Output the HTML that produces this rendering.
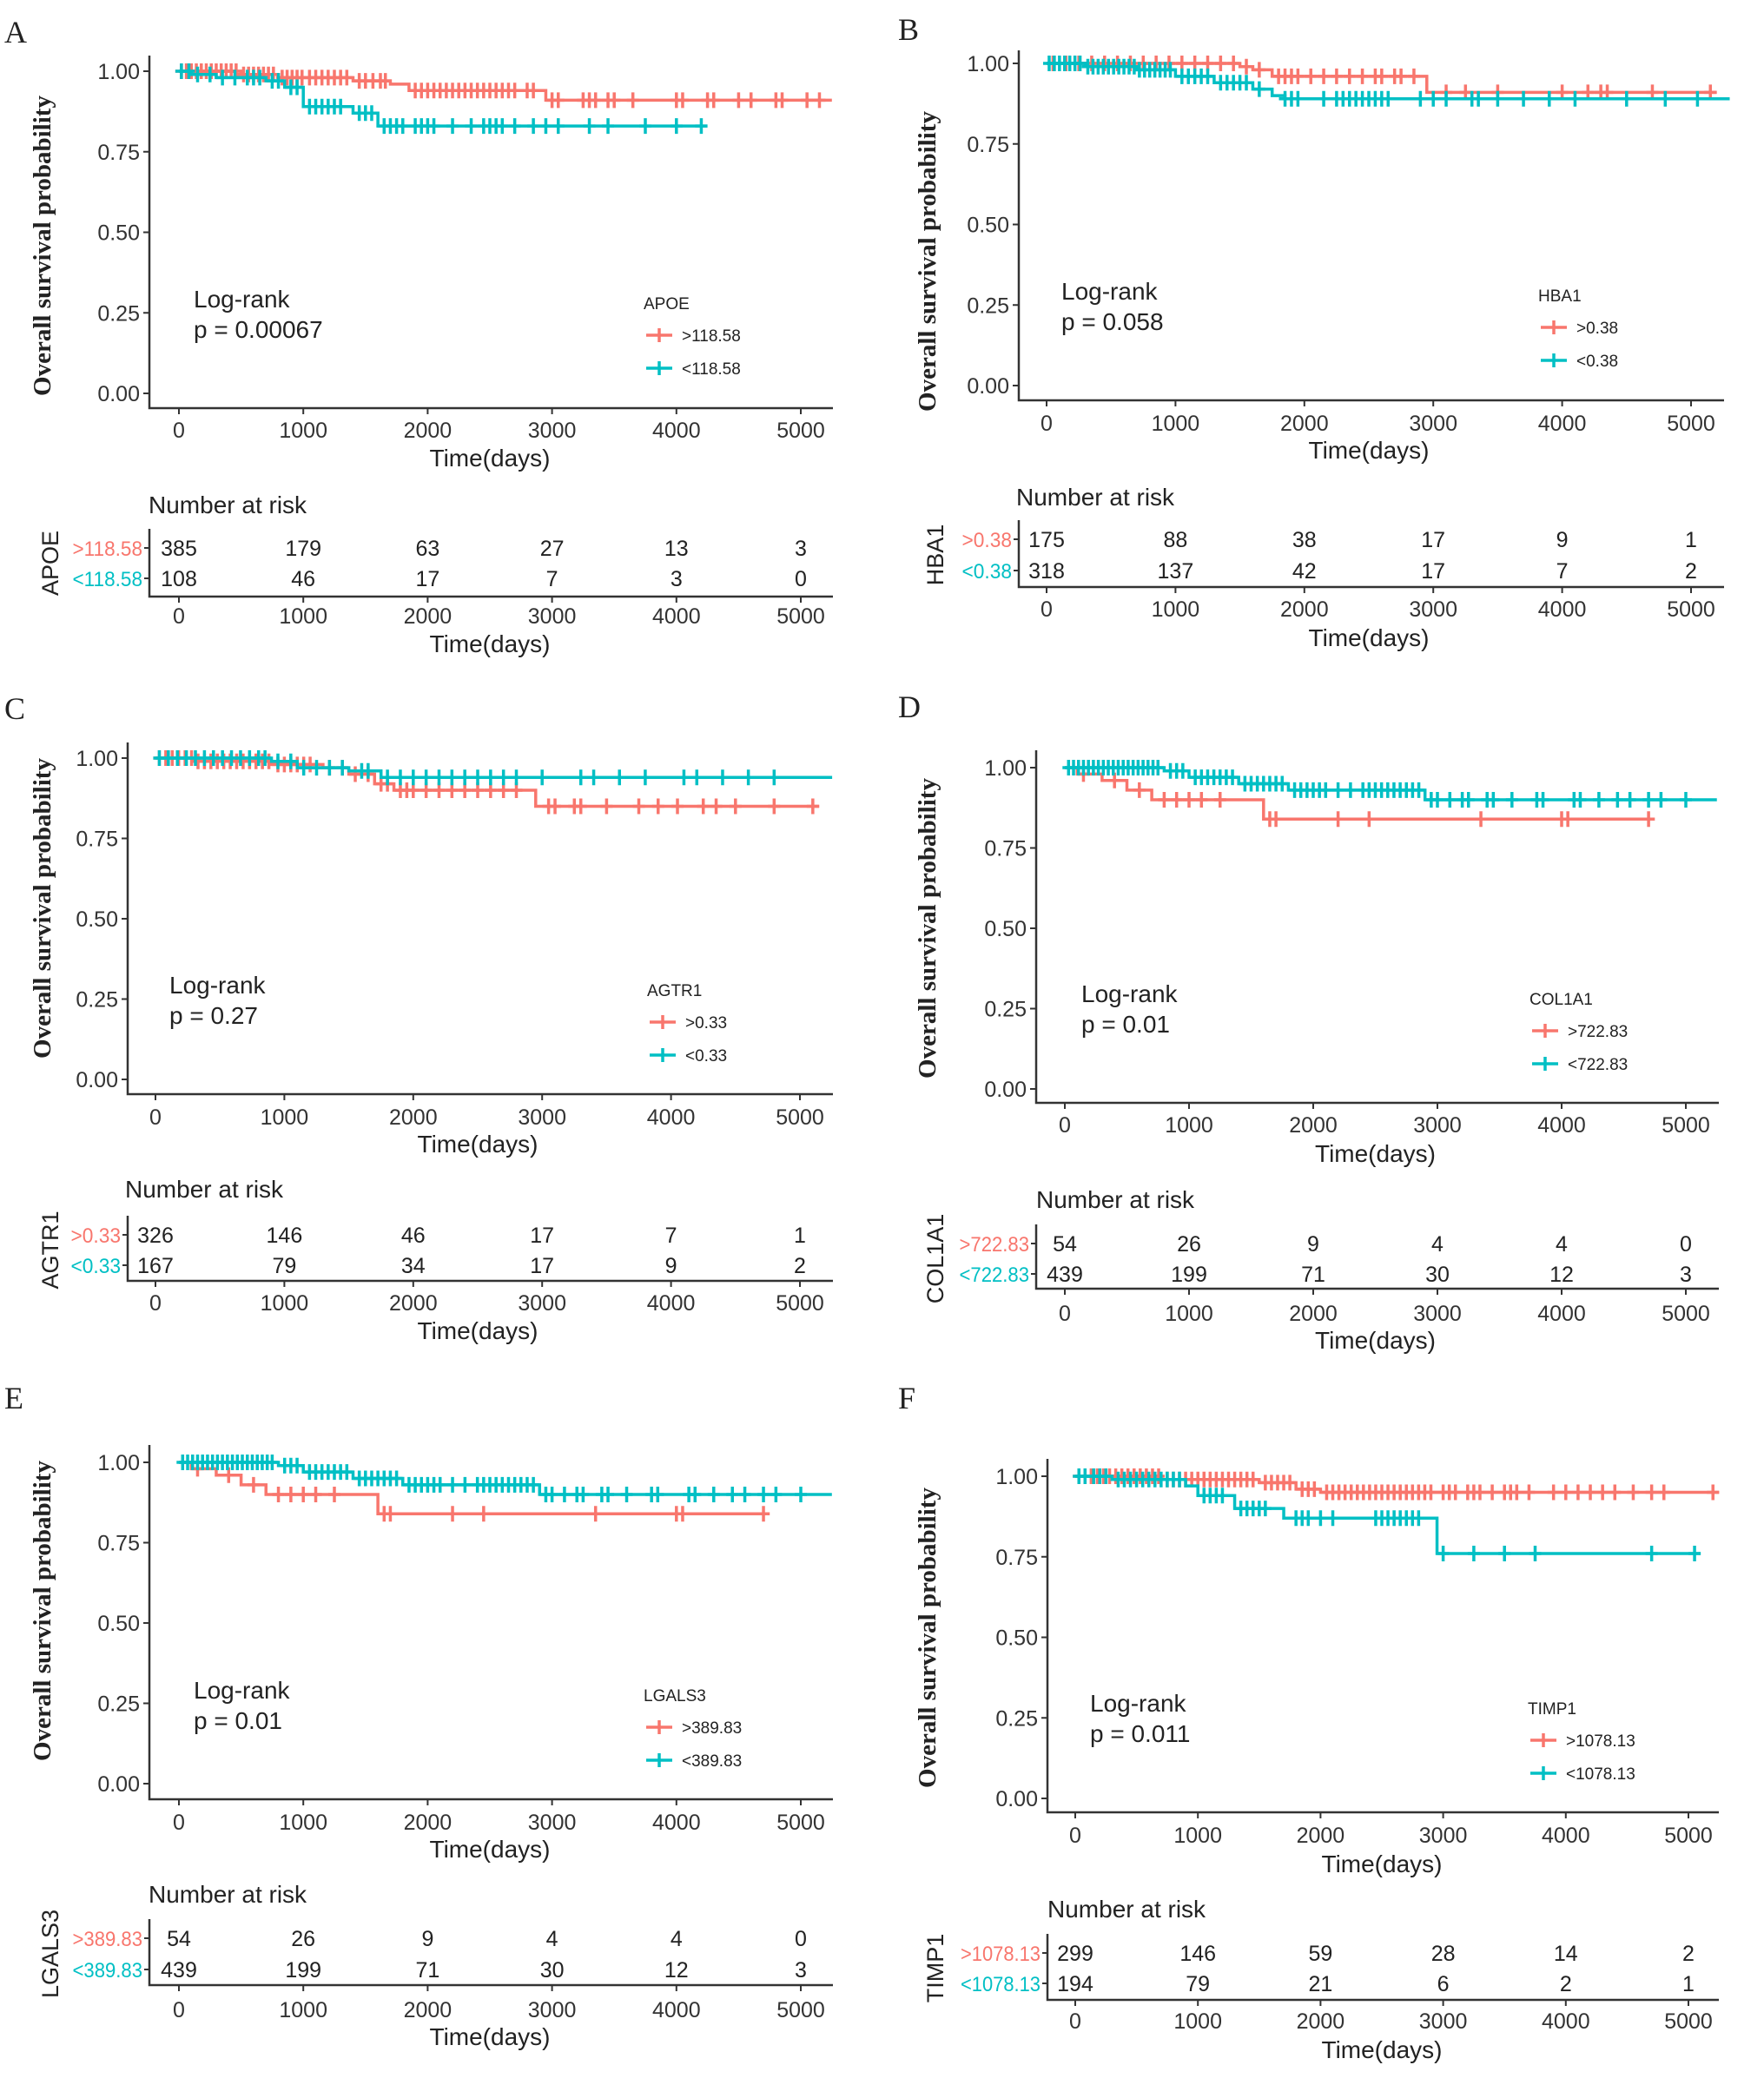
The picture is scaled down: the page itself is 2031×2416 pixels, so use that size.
<!DOCTYPE html>
<html><head><meta charset="utf-8">
<style>
html,body{margin:0;padding:0;background:#fff;}
svg{display:block;}
text{font-family:"Liberation Sans",sans-serif;}
.serif{font-family:"Liberation Serif",serif;}
</style></head>
<body>
<svg id="fig" width="2031" height="2416" viewBox="0 0 2031 2416" xmlns="http://www.w3.org/2000/svg"></svg>
<script>
// ---- data (days, survival) ----
const xTicks=[0,1000,2000,3000,4000,5000];
const yTicks=[0,0.25,0.5,0.75,1];
const yTickLabels=["0.00","0.25","0.50","0.75","1.00"];

const aHiT=[500,800,1400,1700,1850,2950];
const aHiS=[0.99,0.98,0.97,0.96,0.94,0.91];
const aHiC=[20,60,100,140,180,220,260,300,340,380,420,460,520,560,600,640,680,720,760,830,870,910,950,990,1050,1100,1150,1200,1250,1300,1350,1450,1500,1560,1620,1660,1900,1950,2000,2050,2100,2150,2200,2250,2300,2350,2400,2450,2500,2550,2600,2650,2700,2800,2850,3000,3050,3250,3300,3350,3450,3500,3650,4000,4050,4250,4300,4500,4600,4800,4850,5050,5150];
const aHiEnd=5250;
const aLoT=[100,300,700,850,1000,1400,1600];
const aLoS=[0.99,0.98,0.97,0.95,0.89,0.87,0.83];
const aLoC=[20,80,150,250,350,450,550,600,650,750,800,900,950,1050,1100,1150,1200,1250,1300,1450,1500,1550,1650,1700,1750,1800,1900,1950,2000,2050,2200,2350,2450,2500,2550,2600,2700,2850,2950,3050,3300,3450,3750,4000,4200];
const aLoEnd=4250;
const aRiskHi=[385,179,63,27,13,3];
const aRiskLo=[108,46,17,7,3,0];

const bHiT=[1500,1600,1750,2950];
const bHiS=[0.99,0.98,0.96,0.91];
const bHiC=[50,150,250,350,450,550,650,750,850,950,1050,1150,1250,1350,1450,1550,1650,1800,1850,1900,1950,2050,2150,2250,2350,2450,2550,2600,2700,2750,2850,3100,3250,3500,4000,4200,4300,4350,4700,5150];
const bHiEnd=5200;
const bLoT=[300,700,1000,1300,1600,1750,1850];
const bLoS=[0.99,0.98,0.96,0.94,0.92,0.90,0.89];
const bLoC=[20,60,100,140,180,220,260,320,360,400,440,480,520,560,600,640,680,720,760,800,840,880,920,960,1050,1100,1150,1200,1250,1350,1400,1450,1500,1550,1650,1850,1900,1950,2150,2250,2300,2350,2400,2450,2500,2550,2600,2650,2900,3000,3100,3300,3350,3500,3700,3900,4100,4500,4800,5050];
const bLoEnd=5300;
const bRiskHi=[175,88,38,17,9,1];
const bRiskLo=[318,137,42,17,7,2];

const cHiT=[300,900,1300,1500,1700,1850,2950];
const cHiS=[0.99,0.98,0.97,0.95,0.92,0.90,0.85];
const cHiC=[30,80,130,180,230,280,330,380,430,480,530,580,630,680,730,780,830,880,950,1000,1050,1100,1150,1200,1350,1450,1550,1650,1750,1800,1900,1950,2000,2100,2200,2300,2400,2500,2600,2700,2800,3050,3100,3250,3300,3500,3750,3900,4050,4250,4350,4500,4800,5100];
const cHiEnd=5150;
const cLoT=[900,1100,1500,1750];
const cLoS=[0.99,0.97,0.96,0.94];
const cLoC=[30,100,170,240,310,380,450,520,590,660,730,800,850,950,1050,1150,1250,1350,1450,1600,1650,1800,1900,2000,2100,2200,2300,2400,2500,2600,2700,2800,3000,3300,3400,3600,3800,4100,4200,4400,4600,4800];
const cLoEnd=5250;
const cRiskHi=[326,146,46,17,7,1];
const cRiskLo=[167,79,34,17,9,2];

const dHiT=[100,300,500,700,1600];
const dHiS=[0.98,0.96,0.93,0.90,0.84];
const dHiC=[150,400,600,800,900,1000,1100,1250,1650,1700,2200,2450,3350,4000,4050,4700];
const dHiEnd=4750;
const dLoT=[800,1000,1400,1800,2900];
const dLoS=[0.99,0.97,0.95,0.93,0.90];
const dLoC=[30,70,110,150,190,230,270,310,350,390,430,470,510,550,590,630,670,710,750,850,900,950,1050,1100,1150,1200,1250,1300,1350,1450,1500,1550,1600,1650,1700,1750,1850,1900,1950,2000,2050,2100,2200,2300,2400,2450,2500,2550,2600,2650,2700,2750,2800,2850,2950,3000,3100,3200,3250,3400,3450,3600,3800,3850,4100,4150,4300,4450,4550,4700,4800,5000];
const dLoEnd=5250;
const dRiskHi=[54,26,9,4,4,0];
const dRiskLo=[439,199,71,30,12,3];

const fHiT=[700,1500,1800,2000];
const fHiS=[0.99,0.98,0.96,0.95];
const fHiC=[30,80,130,180,230,280,330,380,430,480,530,580,630,680,750,800,850,900,950,1000,1050,1100,1150,1200,1250,1300,1350,1400,1450,1550,1600,1650,1700,1750,1850,1900,1950,2050,2100,2150,2200,2250,2300,2350,2400,2450,2500,2550,2600,2650,2700,2750,2800,2850,2900,3000,3050,3100,3200,3250,3300,3400,3500,3550,3600,3700,3900,4000,4100,4200,4300,4400,4550,4700,4800,5200];
const fHiEnd=5250;
const fLoT=[300,900,1000,1300,1700,2950];
const fLoS=[0.99,0.97,0.94,0.90,0.87,0.76];
const fLoC=[30,80,150,200,250,350,400,450,500,550,600,650,700,750,800,850,1050,1100,1150,1200,1350,1400,1450,1500,1550,1800,1850,1900,2000,2100,2450,2500,2550,2600,2650,2700,2750,2800,3000,3250,3500,3750,4700,5050];
const fLoEnd=5100;
const fRiskHi=[299,146,59,28,14,2];
const fRiskLo=[194,79,21,6,2,1];

const RED="#F8766D", TEAL="#00BFC4";
const svg=document.getElementById('fig');
const NS="http://www.w3.org/2000/svg";
function el(tag,attrs,parent){const e=document.createElementNS(NS,tag);for(const k in attrs)e.setAttribute(k,attrs[k]);(parent||svg).appendChild(e);return e;}
function txt(s,attrs,parent){const e=el('text',attrs,parent);e.textContent=s;if(!attrs.style)e.setAttribute('style','fill:'+(attrs.fill||'#222'));return e;}
function survAt(T,S,t){let s=1;for(let i=0;i<T.length;i++){if(T[i]<=t)s=S[i];}return s;}

function panel(L,D){
  const g=el('g',{});
  
  
  const X=t=>L.x0+(L.x5-L.x0)*t/5000;
  const Y=s=>L.y0+(L.y1-L.y0)*s;
  const lt=txt(L.id,{x:L.lx,y:L.ly,'font-size':36,class:'serif'},g);
  
  const ax=el('path',{d:`M${L.ax},${L.top}V${L.xa}H${L.right}`,stroke:'#333','stroke-width':2.5,fill:'none'},g);
  
  yTicks.forEach((v,i)=>{
    el('line',{x1:L.ax-7,x2:L.ax,y1:Y(v),y2:Y(v),stroke:'#333','stroke-width':2},g);
    const t=txt(yTickLabels[i],{x:L.ax-11,y:Y(v)+9,'font-size':25,'text-anchor':'end',fill:'#333'},g);
    
  });
  xTicks.forEach(v=>{
    el('line',{x1:X(v),x2:X(v),y1:L.xa,y2:L.xa+7,stroke:'#333','stroke-width':2},g);
    const t=txt(String(v),{x:X(v),y:L.tb,'font-size':25,'text-anchor':'middle',fill:'#333'},g);
    
  });
  const xt=txt('Time(days)',{x:(L.x0+L.x5)/2,y:L.tt,'font-size':28,'text-anchor':'middle'},g);
  
  const yt=txt('Overall  survival probability',{x:0,y:0,'font-size':29,'font-weight':'bold',class:'serif','text-anchor':'middle',transform:`translate(${L.yx},${L.yc}) rotate(-90)`},g);
  
  [[D.hiT,D.hiS,D.hiC,D.hiEnd,RED,'high'],[D.loT,D.loS,D.loC,D.loEnd,TEAL,'low']].forEach(([T,S,C,E,col,nm])=>{
    let d=`M${X(0)},${Y(1)}`;
    for(let i=0;i<T.length;i++){d+=`H${X(T[i])}V${Y(S[i])}`;}
    d+=`H${X(E)}`;
    const p=el('path',{d:d,stroke:col,'stroke-width':3.5,fill:'none'},g);
    
    C.forEach(t=>{
      const cx=X(t),cy=Y(survAt(T,S,t));
      const m=el('path',{d:`M${cx-7},${cy}H${cx+7}M${cx},${cy-9}V${cy+9}`,stroke:col,'stroke-width':3.5},g);
      
    });
  });
  const lr=txt('Log-rank',{x:L.lrx,y:L.lry,'font-size':28},g);
  
  const pv=txt('p = '+L.p,{x:L.lrx,y:L.lry+35,'font-size':28},g);
  
  const lg=el('g',{},g);
  
  txt(L.gene,{x:L.lgx,y:L.lgy,'font-size':19},lg);
  [[RED,'>'+L.cut,L.lgy+30],[TEAL,'<'+L.cut,L.lgy+68]].forEach(([c,s,yy])=>{
    el('path',{d:`M${L.lgx+3},${yy}H${L.lgx+33}M${L.lgx+18},${yy-8}V${yy+8}`,stroke:c,'stroke-width':3.5},lg);
    const e=txt(s,{x:L.lgx+44,y:yy+7,'font-size':19},lg);
    
  });
  const nr=txt('Number at risk',{x:L.nrx,y:L.nry,'font-size':28},g);
  
  const rx=L.ax, rTop=L.r1-22, rB=L.rax;
  el('path',{d:`M${rx},${rTop}V${rB}H${L.right}`,stroke:'#333','stroke-width':2.5,fill:'none'},g);
  [[D.rHi,L.r1,RED,'>'+L.cut],[D.rLo,L.r2,TEAL,'<'+L.cut]].forEach(([arr,yy,c,lab])=>{
    el('line',{x1:rx-6,x2:rx,y1:yy,y2:yy,stroke:'#333','stroke-width':2},g);
    const rl=txt(lab,{x:rx-8,y:yy+9,'font-size':24,'text-anchor':'end',style:'fill:'+c,textLength:lab.length*11.5,lengthAdjust:'spacingAndGlyphs'},g);
    
    arr.forEach((n,i)=>{
      const t=txt(String(n),{x:X(xTicks[i]),y:yy+9,'font-size':25,'text-anchor':'middle'},g);
      
    });
  });
  xTicks.forEach(v=>{
    el('line',{x1:X(v),x2:X(v),y1:rB,y2:rB+7,stroke:'#333','stroke-width':2},g);
    txt(String(v),{x:X(v),y:L.rtb,'font-size':25,'text-anchor':'middle',fill:'#333'},g);
  });
  txt('Time(days)',{x:(L.x0+L.x5)/2,y:L.rtt,'font-size':28,'text-anchor':'middle'},g);
  const gn=txt(L.gene,{x:0,y:0,'font-size':27,'text-anchor':'middle',transform:`translate(${L.yx+9},${(L.r1+L.r2)/2}) rotate(-90)`},g);
  
}

panel({id:'A',lx:5,ly:49,ax:172,top:64,xa:470,right:959,x0:206,x5:922,y1:82,y0:453,tb:504,tt:537,yx:58,yc:283,lrx:223,lry:354,p:'0.00067',gene:'APOE',cut:'118.58',lgx:741,lgy:356,nrx:171,nry:591,r1:631,r2:666,rax:687,rtb:718,rtt:751},
 {hiT:aHiT,hiS:aHiS,hiC:aHiC,hiEnd:aHiEnd,loT:aLoT,loS:aLoS,loC:aLoC,loEnd:aLoEnd,rHi:aRiskHi,rLo:aRiskLo});
panel({id:'B',lx:1034,ly:46,ax:1173,top:58,xa:461,right:1985,x0:1205,x5:1947,y1:73,y0:444,tb:496,tt:528,yx:1077,yc:301,lrx:1222,lry:345,p:'0.058',gene:'HBA1',cut:'0.38',lgx:1771,lgy:347,nrx:1170,nry:582,r1:621,r2:657,rax:676,rtb:710,rtt:744},
 {hiT:bHiT,hiS:bHiS,hiC:bHiC,hiEnd:bHiEnd,loT:bLoT,loS:bLoS,loC:bLoC,loEnd:bLoEnd,rHi:bRiskHi,rLo:bRiskLo});
panel({id:'C',lx:5,ly:828,ax:147,top:855,xa:1260,right:959,x0:179,x5:921,y1:873,y0:1243,tb:1295,tt:1327,yx:58,yc:1046,lrx:195,lry:1144,p:'0.27',gene:'AGTR1',cut:'0.33',lgx:745,lgy:1147,nrx:144,nry:1379,r1:1422,r2:1457,rax:1475,rtb:1509,rtt:1542},
 {hiT:cHiT,hiS:cHiS,hiC:cHiC,hiEnd:cHiEnd,loT:cLoT,loS:cLoS,loC:cLoC,loEnd:cLoEnd,rHi:cRiskHi,rLo:cRiskLo});
panel({id:'D',lx:1034,ly:826,ax:1193,top:864,xa:1270,right:1979,x0:1226,x5:1941,y1:884,y0:1254,tb:1304,tt:1338,yx:1077,yc:1069,lrx:1245,lry:1154,p:'0.01',gene:'COL1A1',cut:'722.83',lgx:1761,lgy:1157,nrx:1193,nry:1391,r1:1432,r2:1467,rax:1484,rtb:1521,rtt:1553},
 {hiT:dHiT,hiS:dHiS,hiC:dHiC,hiEnd:dHiEnd,loT:dLoT,loS:dLoS,loC:dLoC,loEnd:dLoEnd,rHi:dRiskHi,rLo:dRiskLo});
panel({id:'E',lx:5,ly:1622,ax:172,top:1664,xa:2072,right:959,x0:206,x5:922,y1:1684,y0:2054,tb:2107,tt:2139,yx:58,yc:1855,lrx:223,lry:1956,p:'0.01',gene:'LGALS3',cut:'389.83',lgx:741,lgy:1959,nrx:171,nry:2191,r1:2232,r2:2268,rax:2286,rtb:2323,rtt:2355},
 {hiT:dHiT,hiS:dHiS,hiC:dHiC,hiEnd:dHiEnd,loT:dLoT,loS:dLoS,loC:dLoC,loEnd:dLoEnd,rHi:dRiskHi,rLo:dRiskLo});
panel({id:'F',lx:1034,ly:1622,ax:1206,top:1680,xa:2087,right:1979,x0:1238,x5:1944,y1:1700,y0:2071,tb:2122,tt:2156,yx:1077,yc:1886,lrx:1255,lry:1971,p:'0.011',gene:'TIMP1',cut:'1078.13',lgx:1759,lgy:1974,nrx:1206,nry:2208,r1:2249,r2:2284,rax:2303,rtb:2336,rtt:2370},
 {hiT:fHiT,hiS:fHiS,hiC:fHiC,hiEnd:fHiEnd,loT:fLoT,loS:fLoS,loC:fLoC,loEnd:fLoEnd,rHi:fRiskHi,rLo:fRiskLo});
</script>
</body></html>
